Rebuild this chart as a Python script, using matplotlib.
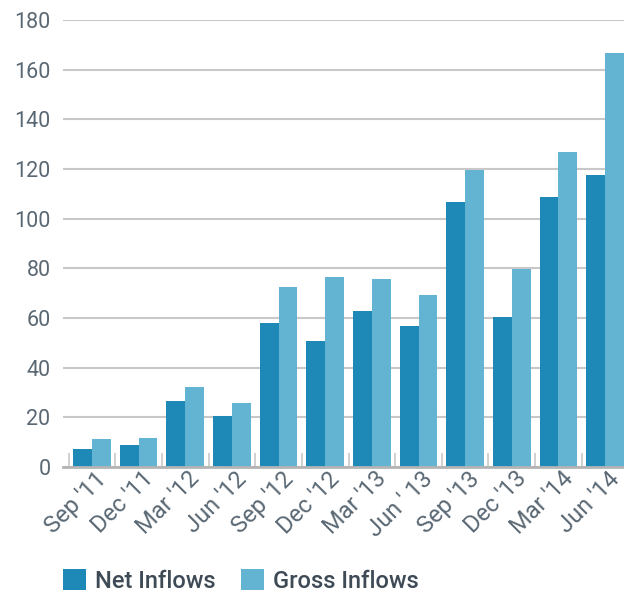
import numpy as np
import matplotlib.pyplot as plt
from matplotlib.transforms import ScaledTranslation

quarters = ["Sep '11", "Dec '11", "Mar '12", "Jun '12", "Sep '12", "Dec '12",
            "Mar '13", "Jun ' 13", "Sep '13", "Dec '13", "Mar '14", "Jun '14"]
net_inflows = [7.3, 8.9, 26.6, 20.5, 58.0, 50.8, 62.8, 56.8, 106.7, 60.4, 108.7, 117.6]
gross_inflows = [11.3, 11.5, 32.2, 25.8, 72.5, 76.5, 75.7, 69.3, 119.6, 79.7, 126.9, 166.7]

NET_COLOR = '#1e89b6'
GROSS_COLOR = '#63b3d2'
TEXT_COLOR = '#5a6874'

fig = plt.figure(figsize=(6.24, 5.94), dpi=100)
ax = fig.add_axes([0.101, 0.2138, 0.899, 0.7525])

x = np.arange(len(quarters))
w = 0.405
ax.bar(x - w / 2, net_inflows, w, color=NET_COLOR, label='Net Inflows', zorder=3)
ax.bar(x + w / 2, gross_inflows, w, color=GROSS_COLOR, label='Gross Inflows', zorder=3)

ax.set_xlim(-0.62, 11.405)
ax.set_ylim(0, 180)
ax.set_yticks(np.arange(0, 181, 20))
ax.yaxis.grid(True, color='#c8c8c8', linewidth=1.5, zorder=0)
ax.tick_params(axis='y', length=0, pad=9, labelsize=15.5, labelcolor=TEXT_COLOR)

for s in ['top', 'right', 'left']:
    ax.spines[s].set_visible(False)
ax.spines['bottom'].set_color('#b4b4b4')
ax.spines['bottom'].set_linewidth(2)
ax.spines['bottom'].set_zorder(4)

# group separators drawn as inward minor ticks
ax.set_xticks(x)
ax.set_xticks(np.arange(-0.5, 11, 1.0), minor=True)
ax.tick_params(axis='x', which='major', length=0, pad=6)
ax.tick_params(axis='x', which='minor', direction='in', length=10, width=1.2, color='#c8c8c8')
ax.set_xticklabels(quarters, rotation=45, ha='right', va='center', rotation_mode='anchor',
                   fontsize=17, color=TEXT_COLOR)
for lbl in ax.get_xticklabels() + ax.get_yticklabels():
    lbl.set_fontfamily('Roboto')
shift = ScaledTranslation(0.11, 0, fig.dpi_scale_trans)
for lbl in ax.get_xticklabels():
    lbl.set_transform(lbl.get_transform() + shift)

leg = fig.legend(loc='center left', bbox_to_anchor=(0.101, 0.022), ncol=2, frameon=False,
                 borderpad=0, borderaxespad=0,
                 handlelength=0.97, handleheight=0.97, handletextpad=0.4, columnspacing=1.05,
                 prop={'family': 'Roboto', 'weight': 'medium', 'size': 17})
for t in leg.get_texts():
    t.set_color('#3e4b57')

fig.savefig('out.png', dpi=100)
